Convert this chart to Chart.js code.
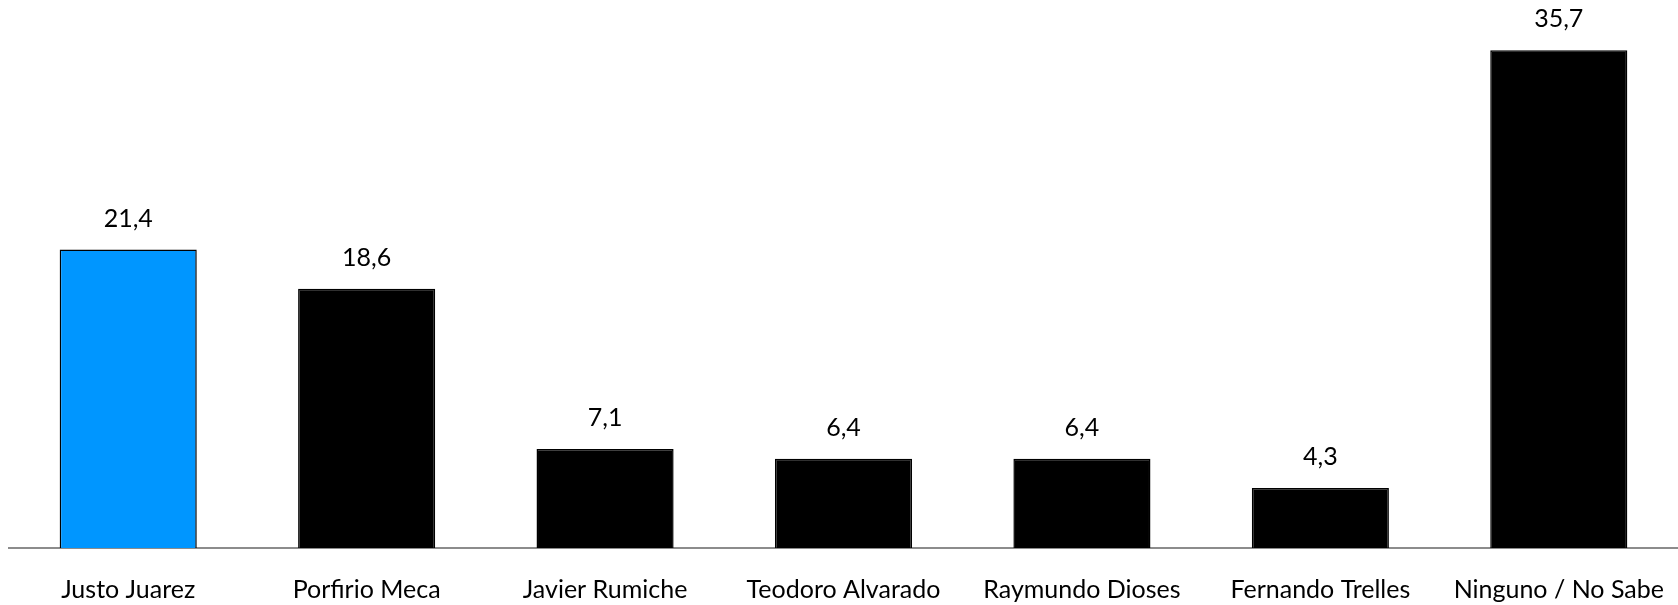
<!DOCTYPE html>
<html>
<head>
<meta charset="utf-8">
<script src="https://cdn.jsdelivr.net/npm/chart.js@4"></script>
<style>
  html, body { margin: 0; padding: 0; background: #fff; }
  #wrap { width: 1678px; height: 605px; }
</style>
</head>
<body>
<div id="wrap"><canvas id="grafico"></canvas></div>
<script>
// ===== Datos =====
const candidatos = ["Justo Juarez", "Porfirio Meca", "Javier Rumiche", "Teodoro Alvarado", "Raymundo Dioses", "Fernando Trelles", "Ninguno / No Sabe"];
const porcentajes = [21.4, 18.6, 7.1, 6.4, 6.4, 4.3, 35.7];
const coloresBarras = ["#0096ff", "#000000", "#000000", "#000000", "#000000", "#000000", "#000000"];

const fuente = "Lato, 'Open Sans', sans-serif";

// etiqueta encima de cada barra, con coma decimal
const etiquetasValor = {
  id: "etiquetasValor",
  afterDatasetsDraw(chart) {
    const { ctx } = chart;
    const meta = chart.getDatasetMeta(0);
    ctx.save();
    ctx.font = "25px " + fuente;
    ctx.fillStyle = "#000";
    ctx.textAlign = "center";
    ctx.textBaseline = "middle";
    meta.data.forEach((bar, i) => {
      const txt = porcentajes[i].toFixed(1).replace(".", ",");
      ctx.fillText(txt, bar.x, bar.y - 31);
    });
    ctx.restore();
  }
};

new Chart(document.getElementById("grafico"), {
  type: "bar",
  data: {
    labels: candidatos,
    datasets: [{
      data: porcentajes,
      backgroundColor: coloresBarras,
      borderColor: "#000",
      borderWidth: 1.5,
      barPercentage: 0.575,
      categoryPercentage: 1
    }]
  },
  options: {
    responsive: true,
    maintainAspectRatio: false,
    animation: false,
    layout: { padding: { left: 9, right: 0, top: 0, bottom: -27 } },
    plugins: { legend: { display: false }, tooltip: { enabled: false } },
    scales: {
      x: {
        grid: { display: false, drawTicks: false },
        border: { display: true, color: "#8c8c8c", width: 2 },
        ticks: { color: "#000", font: { family: fuente, size: 25 }, padding: 27, maxRotation: 0 },
        // sin relleno extra por las etiquetas de los extremos
        afterFit: (escala) => { escala.paddingLeft = 0; escala.paddingRight = 0; }
      },
      y: { display: false, min: 0, max: 39.3 }
    }
  },
  plugins: [etiquetasValor]
});
</script>
</body>
</html>
